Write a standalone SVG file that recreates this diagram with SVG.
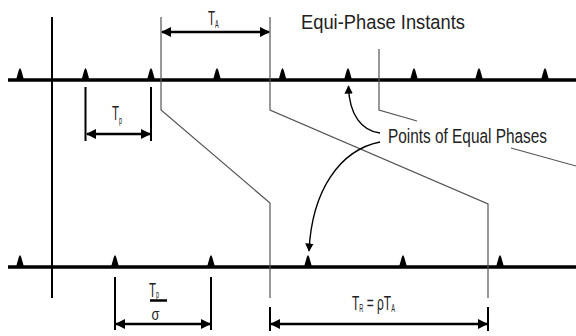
<svg xmlns="http://www.w3.org/2000/svg" width="576" height="336" viewBox="0 0 576 336">
<style>
.axis{stroke:#000;stroke-width:3.5;fill:none}
.gray{stroke:#555;stroke-width:1.2;fill:none}
.blk{stroke:#000;stroke-width:2;fill:none}
.dim{stroke:#000;stroke-width:2.5;fill:none}
.crv{stroke:#000;stroke-width:1.4;fill:none}
.tick{fill:#000}
text{font-family:"Liberation Sans",Arial,sans-serif;fill:#222}
.lbl{font-size:20.5px}
.sym{font-size:21px}
.sub{font-size:10px}
</style>
<defs>
<marker id="ah" viewBox="0 0 10 10" refX="9" refY="5" markerWidth="4" markerHeight="4" orient="auto-start-reverse" markerUnits="strokeWidth">
<path d="M0,0 L10,5 L0,10 z" fill="#000"/>
</marker>
<marker id="ah2" viewBox="0 0 10 10" refX="9" refY="5" markerWidth="6" markerHeight="6" orient="auto" markerUnits="strokeWidth">
<path d="M0,0 L10,5 L0,10 z" fill="#000"/>
</marker>
<path id="tk" d="M-4,0 L-1.2,-10 L0,-12 L1.2,-10 L4,0 z"/>
</defs>

<g id="top-axis">
<line class="axis" x1="8" y1="80" x2="576" y2="80"/>
<g class="tick">
<use href="#tk" x="20" y="80"/><use href="#tk" x="85.5" y="80"/><use href="#tk" x="151" y="80"/>
<use href="#tk" x="217" y="80"/><use href="#tk" x="282.5" y="80"/><use href="#tk" x="348" y="80"/>
<use href="#tk" x="414" y="80"/><use href="#tk" x="479" y="80"/><use href="#tk" x="545" y="80"/>
</g>
</g>

<g id="bottom-axis">
<line class="axis" x1="8" y1="267" x2="576" y2="267"/>
<g class="tick">
<use href="#tk" x="20" y="267"/><use href="#tk" x="115" y="267"/><use href="#tk" x="211" y="267"/>
<use href="#tk" x="308" y="267"/><use href="#tk" x="403" y="267"/><use href="#tk" x="500" y="267"/>
</g>
</g>

<g id="time-origin">
<line class="blk" x1="52" y1="17" x2="52" y2="298"/>
</g>

<g id="connectors">
<path class="gray" d="M161,17 V110 L270,203 V298"/>
<path class="gray" d="M270,17 V110 L488,204 V298"/>
<path class="gray" d="M379,49 V110 L417,121"/>
<path class="gray" d="M511,148 L576,166"/>
<path class="crv" d="M380,133 C362,131 349,115 348.5,86" marker-end="url(#ah2)"/>
<path class="crv" d="M380,142 C340,150 312,190 309,251" marker-end="url(#ah2)"/>
</g>

<g id="dim-TA">
<line class="dim" x1="162" y1="32" x2="269" y2="32" marker-start="url(#ah)" marker-end="url(#ah)"/>
<text class="sym" transform="translate(208,25) scale(0.55,1)">T<tspan class="sub" dy="3" font-size="11">A</tspan></text>
</g>

<g id="dim-Tp">
<line class="blk" x1="85.5" y1="87" x2="85.5" y2="141"/>
<line class="blk" x1="151" y1="87" x2="151" y2="141"/>
<line class="dim" x1="87" y1="134" x2="150" y2="134" marker-start="url(#ah)" marker-end="url(#ah)"/>
<text class="sym" transform="translate(112,120) scale(0.55,1)">T<tspan class="sub" dy="4">p</tspan></text>
</g>

<g id="dim-Tp-sigma">
<line class="blk" x1="115" y1="277" x2="115" y2="330"/>
<line class="blk" x1="211" y1="277" x2="211" y2="330"/>
<line class="dim" x1="116" y1="324" x2="210" y2="324" marker-start="url(#ah)" marker-end="url(#ah)"/>
<text class="sym" transform="translate(149,297) scale(0.55,1)">T<tspan class="sub" dy="1" font-size="8">p</tspan></text>
<line x1="150" y1="300.5" x2="167" y2="300.5" stroke="#000" stroke-width="2.5"/>
<text transform="translate(151.5,320) scale(0.8,1)" font-size="16">σ</text>
</g>

<g id="dim-TR">
<line class="blk" x1="270" y1="307" x2="270" y2="331"/>
<line class="blk" x1="488" y1="307" x2="488" y2="331"/>
<line class="dim" x1="271" y1="324" x2="487" y2="324" marker-start="url(#ah)" marker-end="url(#ah)"/>
<text class="sym" transform="translate(352,310) scale(0.57,1)">T<tspan class="sub" dy="2">R</tspan><tspan dy="-2"> = ρT</tspan><tspan class="sub" dy="2">A</tspan></text>
</g>

<g id="label-equi">
<text class="lbl" x="301" y="29" textLength="164" lengthAdjust="spacingAndGlyphs">Equi-Phase Instants</text>
</g>

<g id="label-points">
<text class="lbl" x="388" y="143" textLength="159" lengthAdjust="spacingAndGlyphs">Points of Equal Phases</text>
</g>
</svg>
